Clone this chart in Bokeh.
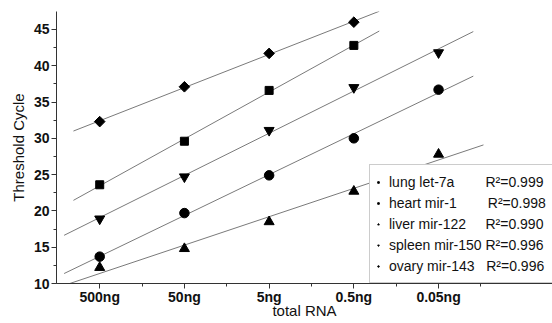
import numpy as np
from bokeh.plotting import figure
from bokeh.models import Range1d, FixedTicker, SingleIntervalTicker, Legend, LegendItem
from bokeh.embed import file_html
from bokeh.resources import INLINE

# ---- data ----
amounts = ["500ng", "50ng", "5ng", "0.5ng", "0.05ng"]
names = ["lung let-7a", "heart mir-1", "liver mir-122", "spleen mir-150", "ovary mir-143"]
lung = [32.3, 37.1, 41.7, 46.0]
heart = [23.6, 29.6, 36.6, 42.8]
liver = [12.2, 14.8, 18.5, 22.7, 27.8]
spleen = [18.9, 24.7, 31.1, 37.0, 41.8]
ovary = [13.7, 19.7, 24.9, 30.0, 36.7]
r_squared = [0.999, 0.998, 0.990, 0.996, 0.996]

series = [lung, heart, liver, spleen, ovary]

# ---- styles ----
markers = ["square", "square", "triangle", "inverted_triangle", "circle"]
sizes = [7.5, 8, 10, 10, 9.5]
angles = [np.pi / 4, 0, 0, 0, 0]
fit_start = [0.69, 0.69, 0.6, 0.58, 0.58]
fit_end = [4.30, 4.30, 5.53, 5.41, 5.41]
gap_spaces = [8, 8, 5, 1, 3]   # non-breaking spaces aligning the R² column

FONT = "Liberation Sans"

p = figure(width=552, height=323, output_backend="svg", toolbar_location=None,
           x_range=Range1d(0.49, 6.345), y_range=Range1d(10, 47.47),
           min_border_left=56, min_border_right=0, min_border_top=11, min_border_bottom=40)
p.outline_line_color = None
p.xgrid.visible = False
p.ygrid.visible = False
p.background_fill_color = "white"
p.border_fill_color = "white"

# fit lines
for vals, xs0, xs1 in zip(series, fit_start, fit_end):
    xpos = np.arange(1, len(vals) + 1)
    k, b = np.polyfit(xpos, vals, 1)
    p.line([xs0, xs1], [k * xs0 + b, k * xs1 + b], line_color="#7a7a7a", line_width=1)

# markers
for vals, m, s, a in zip(series, markers, sizes, angles):
    xpos = list(range(1, len(vals) + 1))
    p.scatter(xpos, vals, marker=m, size=s, angle=a,
              fill_color="black", line_color="black")

# tiny legend-only glyphs (no visible data point)
legend_renderers = []
for m, a in zip(markers, angles):
    r = p.scatter([np.nan], [np.nan], marker=m, size=4, angle=a,
                  fill_color="black", line_color="black")
    legend_renderers.append(r)

# axes
xa = p.xaxis[0]
xa.ticker = FixedTicker(ticks=list(range(1, len(amounts) + 1)),
                        minor_ticks=[i + 0.5 for i in range(1, len(amounts) + 1)])
xa.major_label_overrides = {i + 1: lab for i, lab in enumerate(amounts)}
xa.axis_label = "total RNA"
ya = p.yaxis[0]
ya.ticker = SingleIntervalTicker(interval=5, num_minor_ticks=2)
ya.axis_label = "Threshold Cycle"

for ax in (xa, ya):
    ax.axis_line_color = "#333333"
    ax.major_tick_line_color = "#333333"
    ax.minor_tick_line_color = "#333333"
    ax.major_tick_in = 0
    ax.major_tick_out = 5
    ax.minor_tick_in = 0
    ax.minor_tick_out = 3
    ax.major_label_text_font = FONT
    ax.major_label_text_font_size = "14px"
    ax.major_label_text_font_style = "bold"
    ax.major_label_text_color = "#111111"
    ax.axis_label_text_font = FONT
    ax.axis_label_text_font_size = "15px"
    ax.axis_label_text_font_style = "normal"
    ax.axis_label_text_color = "#111111"

xa.major_label_standoff = 0
xa.axis_label_standoff = -6
ya.major_label_standoff = 2
ya.axis_label_standoff = 4

# legend
labels = [f"{n}{chr(160) * g}R\u00b2={v:.3f}" for n, g, v in zip(names, gap_spaces, r_squared)]
legend = Legend(items=[LegendItem(label=t, renderers=[r]) for t, r in zip(labels, legend_renderers)],
                location=(313, 0), margin=0, padding=6, spacing=0, label_height=21,
                label_width=156, glyph_width=4, glyph_height=4, label_standoff=9,
                label_text_font=FONT, label_text_font_size="14px", label_text_color="#111111",
                border_line_color="#999999", border_line_width=1,
                background_fill_color="white", background_fill_alpha=1.0)
p.add_layout(legend)

open("out.html", "w").write(file_html(p, INLINE))
